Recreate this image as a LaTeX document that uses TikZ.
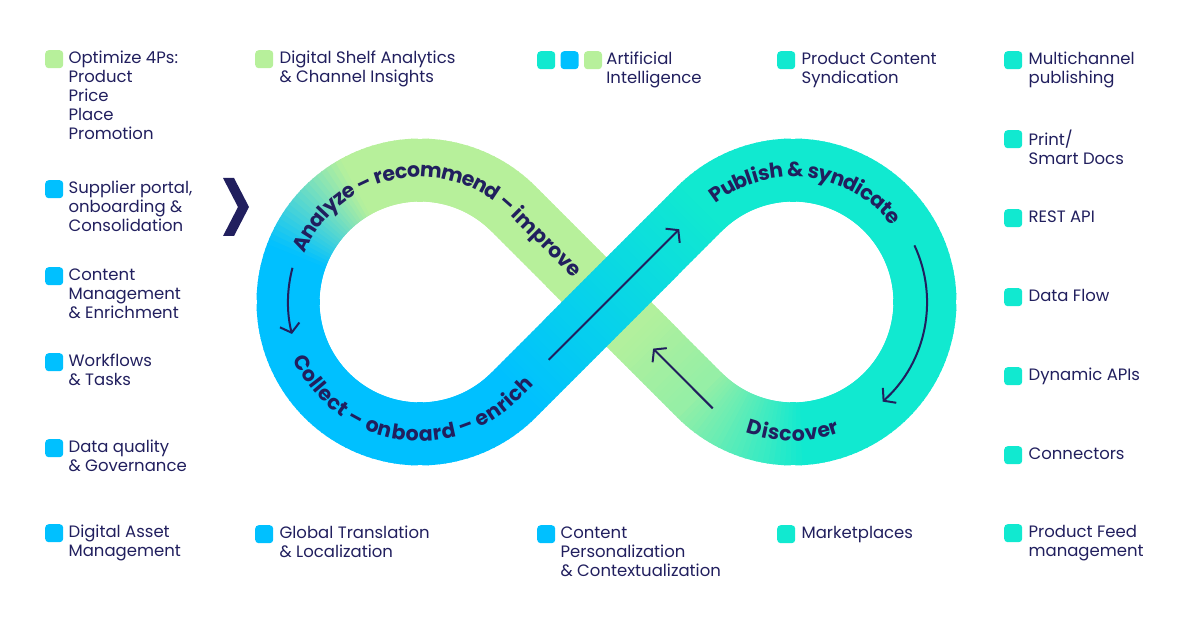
\documentclass[tikz,border=0pt]{standalone}
\usepackage{fontspec}
\setmainfont{Poppins}
\usetikzlibrary{positioning,calc,arrows.meta,decorations.text}

\definecolor{navy}{RGB}{33,31,94}
\definecolor{lgreen}{RGB}{183,240,155}
\definecolor{sky}{RGB}{0,192,255}
\definecolor{aqua}{RGB}{17,233,208}

\newcommand\looptextfont{\bfseries\fontsize{20.5}{24}\selectfont}

\tikzset{
  band/.style={line width=63pt, line cap=butt},
  bullet/.style={rounded corners=3.5pt, minimum size=18pt, inner sep=0pt, anchor=north west},
  entry/.style={anchor=north west, inner sep=0pt, align=left, text=navy,
    font=\fontsize{16.5}{19}\selectfont},
  flow/.style={draw=navy, line width=2pt, -{Straight Barb[length=8pt,width=20pt]}},
  looplabel/.style={decorate, decoration={text along path, raise=-7pt, text color=navy}}
}

\begin{document}
\begin{tikzpicture}[x=1pt, y=-1pt]
  \useasboundingbox (0,0) rectangle (1200,628);

  % centres of the two loops and the tangent points
  \coordinate (cL) at (420,302);
  \coordinate (cR) at (793,302);
  \coordinate (mid) at (606.5,302);
  \coordinate (tLup) at (513.3,208.7);
  \coordinate (tLdn) at (513.3,395.3);
  \coordinate (tRup) at (699.7,208.7);
  \coordinate (tRdn) at (699.7,395.3);

  % left loop
  \begin{scope}[shift={(420,302)}]
    \foreach \a in {45,47,...,313} {
      \pgfmathtruncatemacro\p{min(100,max(0,(\a-200)/40*100))}
      \draw[band, draw=lgreen!\p!sky] ({\a-0.5}:132) -- ({\a+2.5}:132);
    }
  \end{scope}
  % right loop
  \begin{scope}[shift={(793,302)}]
    \foreach \a in {225,227,...,493} {
      \pgfmathtruncatemacro\p{min(80,max(0,(\a-445)/50*80))}
      \draw[band, draw=lgreen!\p!aqua] ({\a-0.5}:132) -- ({\a+2.5}:132);
    }
  \end{scope}
  % strand underneath
  \foreach \i in {0,...,49} {
    \pgfmathsetmacro\t{\i/50}
    \pgfmathtruncatemacro\p{80+20*min(1,\t/0.4)}
    \draw[band, draw=lgreen!\p!aqua] ($(tRdn)!{\t-0.004}!(tLup)$) -- ($(tRdn)!{\t+0.024}!(tLup)$);
  }
  % strand on top
  \foreach \i in {0,...,49} {
    \pgfmathsetmacro\t{\i/50}
    \pgfmathtruncatemacro\p{100*\t}
    \draw[band, draw=aqua!\p!sky] ($(tLdn)!{\t-0.004}!(tRup)$) -- ($(tLdn)!{\t+0.024}!(tRup)$);
  }

  % texts on the loop
  \path[looplabel, decoration={text={|\looptextfont|Analyze – recommend – improve}}]
    ([shift={(203:132)}]cL) arc[start angle=203, end angle=315, radius=132] -- ($(tLup)!0.9!(mid)$);
  \path[looplabel, decoration={text={|\looptextfont|Collect – onboard – enrich}}]
    ([shift={(156:132)}]cL) arc[start angle=156, end angle=45, radius=132] -- ($(tLdn)!0.9!(mid)$);
  \path[looplabel, decoration={text={|\looptextfont|Publish {\&} syndicate}, text align=center}]
    ([shift={(222:132)}]cR) arc[start angle=222, end angle=332, radius=132];
  \path[looplabel, decoration={text={|\looptextfont|Discover}, text align=center}]
    ([shift={(125:132)}]cR) arc[start angle=125, end angle=55, radius=132];

  % arrows
  \draw[flow] ([shift={(195:132)}]cL) arc[start angle=195, end angle=166, radius=132];
  \draw[flow] ($(tLdn)!0.19!(tRup)$) -- ($(tLdn)!0.89!(tRup)$);
  \draw[flow] ([shift={(335:134)}]cR) arc[start angle=335, end angle=408, radius=134];
  \draw[flow] ($(tRdn)!-0.07!(tLup)$) -- ($(tRdn)!0.25!(tLup)$);

  % chevron
  \fill[navy] (223,178) -- (234,178) -- (249,207) -- (234,236) -- (223,236) -- (238,207) -- cycle;

  % first column
  \node[bullet, fill=lgreen] (b_opt) at (45,50) {};
  \node[right=5pt of b_opt.north east, entry] (t_opt) {\strut Optimize 4Ps:\\Product\\Price\\Place\\Promotion};
  \node[bullet, fill=sky] (b_sup) at (45,180) {};
  \node[right=5pt of b_sup.north east, entry] (t_sup) {\strut Supplier portal,\\onboarding \&\\Consolidation};
  \node[bullet, fill=sky] (b_cme) at (45,267) {};
  \node[right=5pt of b_cme.north east, entry] (t_cme) {\strut Content\\Management\\\& Enrichment};
  \node[bullet, fill=sky] (b_wft) at (45,353) {};
  \node[right=5pt of b_wft.north east, entry] (t_wft) {\strut Workflows\\\& Tasks};
  \node[bullet, fill=sky] (b_dqg) at (45,439) {};
  \node[right=5pt of b_dqg.north east, entry] (t_dqg) {\strut Data quality\\\& Governance};
  \node[bullet, fill=sky] (b_dam) at (45,524) {};
  \node[right=5pt of b_dam.north east, entry] (t_dam) {\strut Digital Asset\\Management};

  % second column
  \node[bullet, fill=lgreen] (b_dsa) at (255,50) {};
  \node[right=6pt of b_dsa.north east, entry] (t_dsa) {\strut Digital Shelf Analytics\\\& Channel Insights};
  \node[bullet, fill=sky] (b_gtl) at (255,525) {};
  \node[right=6pt of b_gtl.north east, entry] (t_gtl) {\strut Global Translation\\\& Localization};

  % third column
  \node[bullet, fill=aqua] (b_ai1) at (537,51) {};
  \node[bullet, fill=sky, right=5pt of b_ai1] (b_ai2) {};
  \node[bullet, fill=lgreen, right=5pt of b_ai2] (b_ai3) {};
  \node[right=4pt of b_ai3.north east, entry] (t_ai) {\strut Artificial\\Intelligence};
  \node[bullet, fill=sky] (b_cpc) at (537,525) {};
  \node[right=5pt of b_cpc.north east, entry] (t_cpc) {\strut Content\\Personalization\\\& Contextualization};

  % fourth column
  \node[bullet, fill=aqua] (b_pcs) at (777,51) {};
  \node[right=6pt of b_pcs.north east, entry] (t_pcs) {\strut Product Content\\Syndication};
  \node[bullet, fill=aqua] (b_mkt) at (777,525) {};
  \node[right=6pt of b_mkt.north east, entry] (t_mkt) {\strut Marketplaces};

  % fifth column
  \node[bullet, fill=aqua] (b_mcp) at (1004,51) {};
  \node[right=6pt of b_mcp.north east, entry] (t_mcp) {\strut Multichannel\\publishing};
  \node[bullet, fill=aqua] (b_prt) at (1004,130) {};
  \node[right=6pt of b_prt.north east, entry] (t_prt) {\strut Print/\\Smart Docs};
  \node[bullet, fill=aqua] (b_api) at (1004,209) {};
  \node[right=6pt of b_api.north east, entry] (t_api) {\strut REST API};
  \node[bullet, fill=aqua] (b_dfl) at (1004,288) {};
  \node[right=6pt of b_dfl.north east, entry] (t_dfl) {\strut Data Flow};
  \node[bullet, fill=aqua] (b_dyn) at (1004,367) {};
  \node[right=6pt of b_dyn.north east, entry] (t_dyn) {\strut Dynamic APIs};
  \node[bullet, fill=aqua] (b_con) at (1004,446) {};
  \node[right=6pt of b_con.north east, entry] (t_con) {\strut Connectors};
  \node[bullet, fill=aqua] (b_pfm) at (1004,524) {};
  \node[right=6pt of b_pfm.north east, entry] (t_pfm) {\strut Product Feed\\management};
\end{tikzpicture}
\end{document}
